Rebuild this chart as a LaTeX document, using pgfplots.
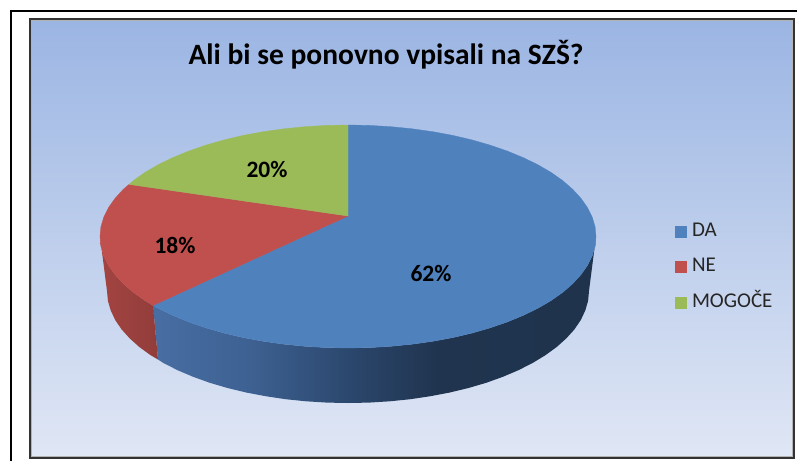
\documentclass[border=0pt]{standalone}
\usepackage{fontspec}
\setmainfont{Carlito}
\usepackage{pgfplots}
\pgfplotsset{compat=1.18}
\definecolor{bgtop}{RGB}{155,181,227}
\definecolor{bgbot}{RGB}{224,231,245}
\definecolor{sliceblue}{RGB}{79,129,189}
\definecolor{slicered}{RGB}{192,80,77}
\definecolor{slicegreen}{RGB}{155,187,89}
\pgfdeclarehorizontalshading{bluewall}{100bp}{
  rgb(0bp)=(0.28,0.43,0.64);
  rgb(25bp)=(0.28,0.43,0.64);
  rgb(36bp)=(0.24,0.38,0.57);
  rgb(47bp)=(0.17,0.28,0.43);
  rgb(57bp)=(0.125,0.205,0.31);
  rgb(75bp)=(0.12,0.20,0.30);
  rgb(100bp)=(0.12,0.20,0.30)}
\begin{document}
\begin{tikzpicture}
\begin{axis}[
  at={(0,0)}, anchor=south west,
  width=797pt, height=461pt, scale only axis,
  xmin=0, xmax=797, ymin=0, ymax=461, y dir=reverse,
  hide axis,
  legend style={draw=none, fill=none, at={(axis cs:675,220)}, anchor=north west,
    font=\fontsize{21}{22}\selectfont, text=black!85, row sep=13.5pt,
    inner sep=0pt, nodes={inner sep=2pt, text height=14pt, text depth=4pt}},
  legend cell align=left,
  legend image code/.code={\fill[#1] (0pt,-5.5pt) rectangle (11pt,5.5pt); \path (14.5pt,0pt);},
]
\addplot[forget plot, fill=white, draw=none] coordinates {(0,0)(797,0)(797,461)(0,461)} --cycle;
\addplot[forget plot, draw=none, top color=bgtop, bottom color=bgbot] coordinates {(30,19)(794,19)(794,458)(30,458)} --cycle;
\addplot[forget plot, draw=black!80, line width=1.3pt] coordinates {(30,19)(794,19)(794,458)(30,458)} --cycle;
\addplot[forget plot, draw=black!30, line width=0.8pt] coordinates {(31.5,20.5)(792.8,20.5)(792.8,456.8)(31.5,456.8)} --cycle;
\addplot[forget plot, draw=black, line width=2.5pt] coordinates {(797,11)(11,11)(11,461)};
% blue wall
\addplot[forget plot, draw=none, shade, shading=bluewall] coordinates {
(153,305.5)(158,308.2)(172.6,315.3)(188.6,321.9)(205.7,327.8)(224,333.1)(243.2,337.6)(263.2,341.3)(283.8,344.2)(304.9,346.3)(326.4,347.6)(348,348)
(369.6,347.6)(391.1,346.3)(412.2,344.2)(432.8,341.3)(452.8,337.6)(472,333.1)(490.3,327.8)(507.4,321.9)(523.4,315.3)(538,308.2)(551.2,300.5)(562.8,292.3)(572.8,283.6)(581,274.6)(587.5,265.4)(592.2,255.9)(595.1,246.2)(596,236.5)
(589,291)(588.1,300.8)(585.3,310.4)(580.8,320)(574.5,329.3)(566.4,338.3)(556.7,347)(545.4,355.2)(532.6,363)(518.4,370.2)(502.9,376.8)(486.2,382.8)(468.5,388)(449.8,392.5)(430.4,396.2)(410.4,399.2)(389.8,401.3)(369,402.6)(348,403)
(327,402.6)(306.2,401.3)(285.6,399.2)(265.6,396.2)(246.2,392.5)(227.5,388)(209.8,382.8)(193.1,376.8)(177.6,370.2)(163.4,363)(158,359.5)
} --cycle;
% red wall
\addplot[forget plot, draw=none, left color=slicered!85!black, right color=slicered!76!black] coordinates {
(153,305.5)(144.8,300.5)(133.2,292.3)(123.2,283.6)(115,274.6)(108.5,265.4)(103.8,255.9)(100.9,246.2)(100,236.5)
(107,291)(107.9,300.8)(110.7,310.4)(115.2,320)(121.5,329.3)(129.6,338.3)(139.3,347)(150.6,355.2)(158,359.5)
} --cycle;
% tops
\addplot[fill=sliceblue, draw=sliceblue, line width=0.3pt] coordinates {
(348,216)(348,125)(369.6,125.4)(391.1,126.7)(412.2,128.8)(432.8,131.7)(452.8,135.4)(472,139.9)(490.3,145.2)(507.4,151.1)(523.4,157.7)(538,164.8)(551.2,172.5)(562.8,180.7)(572.8,189.4)(581,198.4)(587.5,207.6)(592.2,217.1)(595.1,226.8)(596,236.5)
(595.1,246.2)(592.2,255.9)(587.5,265.4)(581,274.6)(572.8,283.6)(562.8,292.3)(551.2,300.5)(538,308.2)(523.4,315.3)(507.4,321.9)(490.3,327.8)(472,333.1)(452.8,337.6)(432.8,341.3)(412.2,344.2)(391.1,346.3)(369.6,347.6)(348,348)
(326.4,347.6)(304.9,346.3)(283.8,344.2)(263.2,341.3)(243.2,337.6)(224,333.1)(205.7,327.8)(188.6,321.9)(172.6,315.3)(158,308.2)(153,305.5)
} --cycle;
\addplot[fill=slicered, draw=slicered, line width=0.3pt] coordinates {
(348,216)(153,305.5)(144.8,300.5)(133.2,292.3)(123.2,283.6)(115,274.6)(108.5,265.4)(103.8,255.9)(100.9,246.2)(100,236.5)(100.9,226.8)(103.8,217.1)(108.5,207.6)(115,198.4)(123.2,189.4)(129,184.4)
} --cycle;
\addplot[fill=slicegreen, draw=slicegreen, line width=0.3pt] coordinates {
(348,216)(129,184.4)(133.2,180.7)(144.8,172.5)(158,164.8)(172.6,157.7)(188.6,151.1)(205.7,145.2)(224,139.9)(243.2,135.4)(263.2,131.7)(283.8,128.8)(304.9,126.7)(326.4,125.4)(348,125)
} --cycle;
\legend{DA,NE,MOGOČE}
\node[font=\bfseries\fontsize{29.5}{32}\selectfont, anchor=center] at (axis cs:386,55) {Ali bi se ponovno vpisali na SZŠ?};
\node[font=\bfseries\fontsize{23.5}{25}\selectfont] at (axis cs:431,273) {62\%};
\node[font=\bfseries\fontsize{23.5}{25}\selectfont] at (axis cs:175,245) {18\%};
\node[font=\bfseries\fontsize{23.5}{25}\selectfont] at (axis cs:267,169.5) {20\%};
\end{axis}
\end{tikzpicture}
\end{document}
